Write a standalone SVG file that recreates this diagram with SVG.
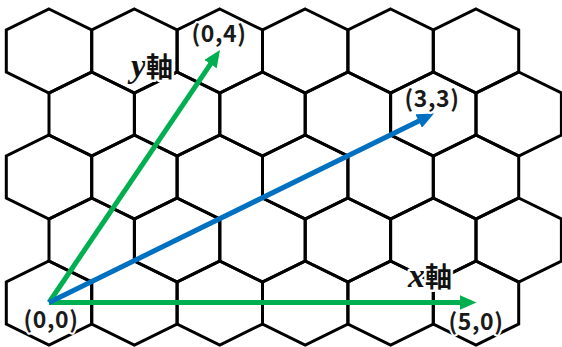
<svg xmlns="http://www.w3.org/2000/svg" xmlns:xlink="http://www.w3.org/1999/xlink" width="562" height="347" viewBox="0 0 562 347">
<style>
.hex{fill:none;stroke:#000;stroke-width:3;stroke-linejoin:miter}
.arr{fill:none;stroke-width:5}
.g{stroke:#00B050}
.b{stroke:#0070C0}
.lbl{font-family:"Noto Sans CJK JP","Noto Sans",sans-serif;font-size:23px;font-weight:bold;letter-spacing:0.6px;fill:#1a1a1a;text-anchor:middle;stroke:#fff;stroke-width:4;paint-order:stroke;stroke-linejoin:round}
.ax{font-family:"Noto Sans CJK JP",sans-serif;font-size:27px;font-weight:bold;fill:#111;stroke:#fff;stroke-width:5;paint-order:stroke;stroke-linejoin:round}
.var{font-family:"Liberation Serif",serif;font-style:italic;font-weight:bold;font-size:34px}
</style>
<defs>
<polygon id="hx" class="hex" points="0,-42 42.7,-21 42.7,21 0,42 -42.7,21 -42.7,-21"/>
<marker id="ag" markerUnits="userSpaceOnUse" markerWidth="17" markerHeight="15" refX="7" refY="7.5" orient="auto" viewBox="0 0 17 15"><path d="M0,0 L17,7.5 L0,15 z" fill="#00B050"/></marker>
<marker id="ab" markerUnits="userSpaceOnUse" markerWidth="17" markerHeight="15" refX="7" refY="7.5" orient="auto" viewBox="0 0 17 15"><path d="M0,0 L17,7.5 L0,15 z" fill="#0070C0"/></marker>
</defs>
<rect width="562" height="347" fill="#fff"/>
<g id="grid">
<g id="row0">
<use href="#hx" x="49" y="51"/><use href="#hx" x="134.4" y="51"/><use href="#hx" x="219.8" y="51"/><use href="#hx" x="305.2" y="51"/><use href="#hx" x="390.6" y="51"/><use href="#hx" x="476" y="51"/>
</g>
<g id="row1">
<use href="#hx" x="91.7" y="114"/><use href="#hx" x="177.1" y="114"/><use href="#hx" x="262.5" y="114"/><use href="#hx" x="347.9" y="114"/><use href="#hx" x="433.3" y="114"/><use href="#hx" x="518.7" y="114"/>
</g>
<g id="row2">
<use href="#hx" x="49" y="177"/><use href="#hx" x="134.4" y="177"/><use href="#hx" x="219.8" y="177"/><use href="#hx" x="305.2" y="177"/><use href="#hx" x="390.6" y="177"/><use href="#hx" x="476" y="177"/>
</g>
<g id="row3">
<use href="#hx" x="91.7" y="240"/><use href="#hx" x="177.1" y="240"/><use href="#hx" x="262.5" y="240"/><use href="#hx" x="347.9" y="240"/><use href="#hx" x="433.3" y="240"/><use href="#hx" x="518.7" y="240"/>
</g>
<g id="row4">
<use href="#hx" x="49" y="303"/><use href="#hx" x="134.4" y="303"/><use href="#hx" x="219.8" y="303"/><use href="#hx" x="305.2" y="303"/><use href="#hx" x="390.6" y="303"/><use href="#hx" x="476" y="303"/>
</g>
</g>
<g id="connectors">
<line id="x-axis" class="arr g" x1="49" y1="302.5" x2="466.5" y2="302.5" marker-end="url(#ag)"/>
<line id="y-axis" class="arr g" x1="49" y1="302.5" x2="214.4" y2="58.3" marker-end="url(#ag)"/>
<line id="vec33" class="arr b" x1="49" y1="302.5" x2="425" y2="117.9" marker-end="url(#ab)"/>
</g>
<g id="labels">
<text class="lbl" x="51" y="328">(0,0)</text>
<text class="lbl" x="219" y="41.5">(0,4)</text>
<text class="lbl" x="432" y="107">(3,3)</text>
<text class="lbl" x="476" y="330">(5,0)</text>
<text class="ax" x="131" y="77"><tspan class="var">y</tspan>軸</text>
<text class="ax" x="408" y="287"><tspan class="var">x</tspan>軸</text>
</g>
</svg>
